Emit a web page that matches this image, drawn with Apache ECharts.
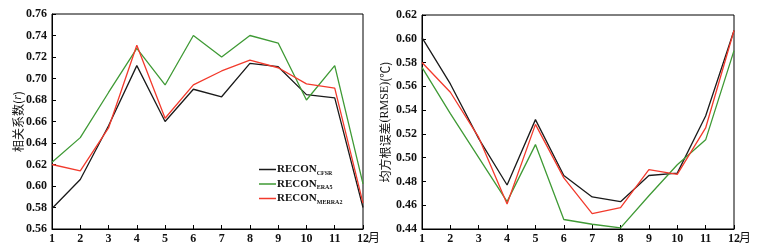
<!DOCTYPE html>
<html><head><meta charset="utf-8">
<script src="https://cdn.jsdelivr.net/npm/echarts@6/dist/echarts.min.js"></script>
<style>html,body{margin:0;padding:0;background:#fff}#c{width:760px;height:250px}</style>
</head><body><div id="c"></div>
<script>
const months = ['1','2','3','4','5','6','7','8','9','10','11','12'];
const rCFSR   = [0.579,0.606,0.656,0.712,0.660,0.690,0.683,0.714,0.711,0.685,0.682,0.580];
const rERA5   = [0.622,0.645,0.687,0.728,0.694,0.740,0.720,0.740,0.733,0.680,0.712,0.602];
const rMERRA2 = [0.620,0.614,0.654,0.731,0.663,0.694,0.707,0.717,0.710,0.695,0.691,0.584];
const eCFSR   = [0.601,0.562,0.516,0.477,0.532,0.485,0.467,0.463,0.485,0.487,0.535,0.607];
const eERA5   = [0.576,0.537,0.500,0.463,0.511,0.448,0.444,0.441,0.468,0.494,0.515,0.590];
const eMERRA2 = [0.580,0.555,0.517,0.461,0.528,0.483,0.453,0.458,0.490,0.486,0.525,0.607];
const rTicks = {min:0.56,max:0.76,interval:0.02};
const eTicks = {min:0.44,max:0.62,interval:0.02};

const colors = {CFSR:'#1a1a1a', ERA5:'#3f9a35', MERRA2:'#f23a2c'};
const serif = '"Liberation Serif","DejaVu Serif",serif';
const cjk = '"Noto Sans CJK SC","Liberation Serif",serif';
const labelStyle = {color:'#111', fontFamily:serif, fontWeight:'bold', fontSize:12};

function xAxis(gi){
  return {type:'category', gridIndex:gi, data:months, boundaryGap:false,
    axisLine:{lineStyle:{color:'#000',width:1}},
    axisTick:{inside:true,length:4,lineStyle:{color:'#000'}},
    axisLabel:Object.assign({margin:4},labelStyle),
    name:'月', nameLocation:'end', nameGap:5, nameMoveOverlap:false,
    nameTextStyle:{color:'#111',fontFamily:cjk,fontSize:12,verticalAlign:'top',padding:[2,0,0,0]}};
}
function yAxis(gi,t,name,gap){
  return {type:'value', gridIndex:gi, min:t.min, max:t.max, interval:t.interval,
    axisLine:{show:true,lineStyle:{color:'#000',width:1}},
    axisTick:{show:true,inside:true,length:4,lineStyle:{color:'#000'}},
    splitLine:{show:false},
    axisLabel:Object.assign({margin:5,formatter:v=>v.toFixed(2)},labelStyle),
    name:name, nameLocation:'middle', nameGap:gap, nameRotate:90, nameMoveOverlap:false,
    nameTextStyle:{color:'#111',fontFamily:cjk,fontSize:12,
      rich:{i:{fontFamily:serif,fontStyle:'italic',fontSize:12,color:'#111'},
            s:{fontFamily:serif,fontSize:12,color:'#111'}}}};
}
function line(name,data,gi){
  return {type:'line', name:name, xAxisIndex:gi, yAxisIndex:gi, data:data,
    symbol:'none', lineStyle:{width:1.3,color:colors[name]}, itemStyle:{color:colors[name]},
    animation:false};
}
const chart = echarts.init(document.getElementById('c'));
chart.setOption({
  animation:false,
  grid:[
    {left:52,right:397,top:14,bottom:21,show:true,borderColor:'#000',borderWidth:1},
    {left:422,right:26,top:15,bottom:21,show:true,borderColor:'#000',borderWidth:1}
  ],
  xAxis:[xAxis(0),xAxis(1)],
  yAxis:[yAxis(0,rTicks,'相关系数({i|r})',28),yAxis(1,eTicks,'均方根误差{s|(RMSE)}(℃)',31)],
  legend:{left:254,top:159,orient:'vertical',itemWidth:17,itemHeight:1.5,itemGap:2.5,icon:'rect',
    data:['CFSR','ERA5','MERRA2'],
    formatter:n=>'{a|RECON}{b|'+n+'}',
    textStyle:{padding:[0,0,0,-4],rich:{
      a:{fontFamily:serif,fontWeight:'bold',fontSize:11,color:'#111',lineHeight:13},
      b:{fontFamily:serif,fontWeight:'bold',fontSize:6,color:'#111',verticalAlign:'bottom',padding:[4,0,0,0],lineHeight:13}
    }}},
  series:[
    line('CFSR',rCFSR,0),line('ERA5',rERA5,0),line('MERRA2',rMERRA2,0),
    line('CFSR',eCFSR,1),line('ERA5',eERA5,1),line('MERRA2',eMERRA2,1)
  ]
});
</script></body></html>
